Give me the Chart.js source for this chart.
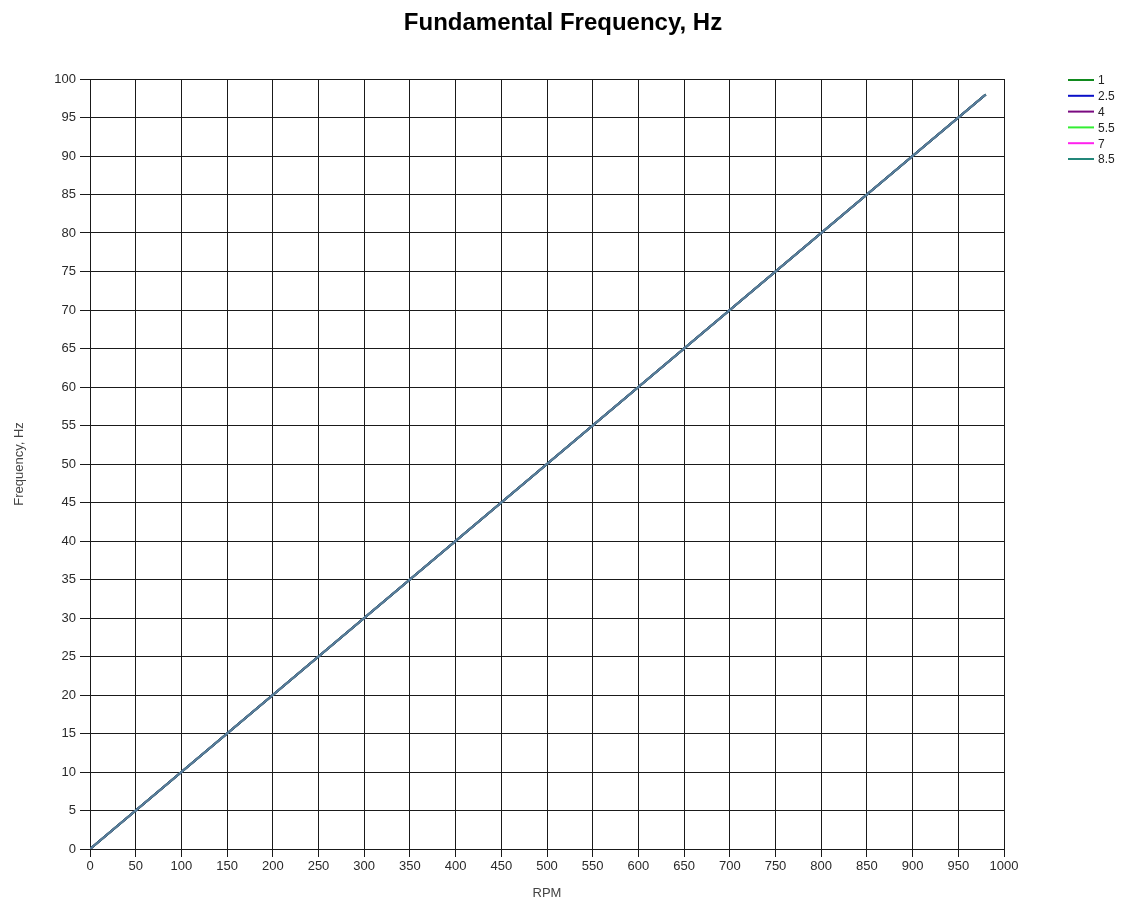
<!DOCTYPE html>
<html>
<head>
<meta charset="utf-8">
<style>
  html, body { margin: 0; padding: 0; background: #ffffff; }
  #wrap { width: 1126px; height: 905px; position: relative; }
</style>
<script src="https://cdn.jsdelivr.net/npm/chart.js@4/dist/chart.umd.min.js"></script>
</head>
<body>
<div id="wrap"><canvas id="c" width="1126" height="905"></canvas></div>
<script>
// Shaft speed in RPM and the matching fundamental frequency in Hz
const rpm = [0, 100, 200, 300, 400, 500, 600, 700, 800, 900, 980];
const frequencyHz = [0, 10, 20, 30, 40, 50, 60, 70, 80, 90, 98];

// Legend series (all coincide with the fundamental line)
const seriesNames = ['1', '2.5', '4', '5.5', '7', '8.5'];
const seriesColors = ['#118a1e', '#0a10c8', '#7a0a80', '#33ee33', '#ff22ee', '#23877a'];
const fundamentalColor = '#5b7b9e';

const xTicks = { min: 0, max: 1000, step: 50 };
const yTicks = { min: 0, max: 100, step: 5 };

const points = rpm.map((r, i) => ({ x: r, y: frequencyHz[i] }));

const datasets = seriesNames.map((name, i) => ({
  label: name,
  data: points,
  borderColor: seriesColors[i],
  backgroundColor: seriesColors[i],
  borderWidth: 2,
  pointRadius: 0,
  fill: false,
  tension: 0,
  order: 1
}));
// Fundamental line, drawn on top of the coinciding series
datasets.push({
  label: 'fundamental',
  data: points,
  borderColor: fundamentalColor,
  borderWidth: 2,
  pointRadius: 0,
  fill: false,
  tension: 0,
  order: 0,
  inLegend: false
});

const FONT = 'Arial, "Liberation Sans", sans-serif';

// Title and side legend drawn on the canvas
const decorations = {
  id: 'decorations',
  afterDraw(chart) {
    const ctx = chart.ctx;
    ctx.save();
    ctx.fillStyle = '#000';
    ctx.font = 'bold 24px ' + FONT;
    ctx.textAlign = 'center';
    ctx.textBaseline = 'middle';
    ctx.fillText('Fundamental Frequency, Hz', chart.width / 2, 23);

    ctx.font = '12px ' + FONT;
    ctx.textAlign = 'left';
    let y = 80;
    chart.data.datasets.forEach(ds => {
      if (ds.inLegend === false) return;
      ctx.strokeStyle = ds.borderColor;
      ctx.lineWidth = 2;
      ctx.beginPath();
      ctx.moveTo(1068, y);
      ctx.lineTo(1094, y);
      ctx.stroke();
      ctx.fillStyle = '#222';
      ctx.fillText(ds.label, 1098, y + 1);
      y += 15.8;
    });
    ctx.restore();
  }
};

new Chart(document.getElementById('c'), {
  type: 'line',
  data: { datasets },
  options: {
    responsive: false,
    animation: false,
    layout: { padding: { left: 6, top: 79, right: 122, bottom: 0 } },
    plugins: {
      legend: { display: false },
      title: { display: false },
      tooltip: { enabled: false }
    },
    scales: {
      x: {
        type: 'linear',
        min: xTicks.min,
        max: xTicks.max,
        afterFit(scale) { scale.height = 56; },
        ticks: {
          stepSize: xTicks.step,
          color: '#2a2a2a',
          font: { family: FONT, size: 13 },
          padding: 2,
          maxRotation: 0,
          autoSkip: false,
          callback: v => String(v)
        },
        grid: { color: '#1a1a1a', lineWidth: 1, tickLength: 8, tickColor: '#1a1a1a' },
        border: { color: '#1a1a1a', width: 1 },
        title: {
          display: true,
          text: 'RPM',
          color: '#444',
          font: { family: FONT, size: 13 },
          padding: { top: 4, bottom: 4 }
        }
      },
      y: {
        type: 'linear',
        min: yTicks.min,
        max: yTicks.max,
        afterFit(scale) { scale.width = 84; },
        ticks: {
          stepSize: yTicks.step,
          color: '#2a2a2a',
          font: { family: FONT, size: 13 },
          padding: 4,
          autoSkip: false,
          callback: v => String(v)
        },
        grid: { color: '#1a1a1a', lineWidth: 1, tickLength: 10, tickColor: '#1a1a1a' },
        border: { color: '#1a1a1a', width: 1 },
        title: {
          display: true,
          text: 'Frequency, Hz',
          color: '#444',
          font: { family: FONT, size: 13 },
          padding: { top: 6, bottom: 4 }
        }
      }
    }
  },
  plugins: [decorations]
});
</script>
</body>
</html>
